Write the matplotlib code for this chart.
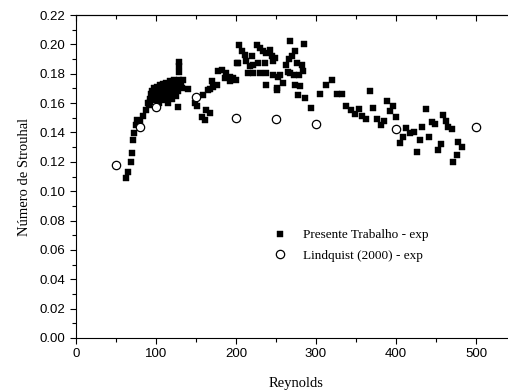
import matplotlib
matplotlib.use("Agg")
import matplotlib.pyplot as plt
from matplotlib.ticker import MultipleLocator, FormatStrFormatter

# Presente Trabalho - exp (filled squares)
re_exp = [62, 64.6, 68.7, 70.4, 71.7, 73, 74.6, 76, 79, 80, 84, 88, 91, 93,
          90, 92, 94, 95, 96, 97, 98, 100, 101, 102, 103, 104, 105, 106, 107,
          108, 109, 110, 111, 112, 113, 114, 115, 116, 117, 118, 119, 120, 121,
          122, 123, 124, 125, 126, 127, 128, 129, 129, 129, 129, 129, 131, 133,
          134, 139.6, 149, 151.7, 157, 161, 159, 163, 165, 167.5, 168, 171.6,
          176, 169.6, 178, 183, 186, 188, 192.5, 192.5, 196.6, 200, 201, 203,
          204, 208, 211, 212, 215.4, 217.5, 219.6, 221.7, 221.7, 226, 228, 230,
          230, 234, 236, 238, 238, 238, 242.5, 244.6, 246.7, 246.7, 248.7, 251,
          251, 253, 255, 259, 262, 265, 266, 267.5, 267.5, 270, 272, 274, 274,
          276, 278, 279, 280, 282, 284, 284.6, 286, 294, 305, 313, 320, 326,
          332, 337.5, 343.4, 349, 354, 358, 362.5, 367.5, 371.7, 376, 381, 385,
          388.4, 392.5, 396.6, 400, 405, 409, 413, 417.5, 422.5, 426, 430, 433,
          437.5, 441.7, 444.6, 449, 453, 456, 459, 462.5, 465.4, 469.6, 471.7,
          476, 478, 483]
st_exp = [0.109, 0.113, 0.120, 0.126, 0.135, 0.1395, 0.1454, 0.1486, 0.146,
          0.147, 0.151, 0.155, 0.1585, 0.161,
          0.160, 0.163, 0.166, 0.168, 0.165, 0.162, 0.170, 0.167, 0.171, 0.164,
          0.168, 0.160, 0.172, 0.166, 0.169, 0.162, 0.173, 0.167, 0.170, 0.164,
          0.174, 0.168, 0.160, 0.171, 0.166, 0.175, 0.169, 0.163, 0.172, 0.167,
          0.176, 0.170, 0.165, 0.173, 0.168, 0.157, 0.171, 0.176, 0.181, 0.185,
          0.188, 0.174, 0.170, 0.176, 0.1695, 0.160, 0.158, 0.1504, 0.1486,
          0.1657, 0.155, 0.169, 0.153, 0.1695, 0.1709, 0.1725, 0.1748, 0.1816,
          0.1827, 0.177, 0.1804, 0.178, 0.1748, 0.177, 0.1759, 0.1873, 0.187,
          0.1997, 0.1952, 0.193, 0.189, 0.1804, 0.185, 0.1918, 0.186, 0.1804,
          0.1997, 0.1873, 0.1975, 0.1804, 0.1952, 0.1873, 0.194, 0.1804,
          0.1725, 0.1963, 0.1918, 0.1884, 0.1793, 0.1907, 0.170, 0.169, 0.178,
          0.179, 0.1736, 0.186, 0.181, 0.190, 0.202, 0.1804, 0.192, 0.179,
          0.1952, 0.1725, 0.1873, 0.1656, 0.179, 0.1718, 0.186, 0.182, 0.2004,
          0.1634, 0.1566, 0.1659, 0.1725, 0.1759, 0.1659, 0.1659, 0.1577,
          0.1554, 0.1527, 0.1559, 0.1513, 0.149, 0.1679, 0.1566, 0.149, 0.1452,
          0.1481, 0.1617, 0.1543, 0.1581, 0.1508, 0.1331, 0.1372, 0.143, 0.1395,
          0.140, 0.127, 0.135, 0.144, 0.1559, 0.1368, 0.1474, 0.1459, 0.128,
          0.1322, 0.152, 0.1481, 0.144, 0.1422, 0.1202, 0.1247, 0.1338, 0.130]

# Lindquist (2000) - exp (open circles)
re_lind = [50, 80, 100, 150, 200, 250, 300, 400, 500]
st_lind = [0.118, 0.144, 0.157, 0.164, 0.150, 0.149, 0.146, 0.1425, 0.144]

serif = "Liberation Serif"
plt.rcParams["font.family"] = "Liberation Sans"

fig = plt.figure(figsize=(5.08, 3.9), dpi=100)
ax = fig.add_axes([76 / 508, 52 / 390, 440 / 508, 323 / 390])

ax.plot(re_exp, st_exp, ls="none", marker="s", ms=5, mfc="black",
        mec="black", mew=0.3, label="Presente Trabalho - exp")
ax.plot(re_lind, st_lind, ls="none", marker="o", ms=6, mfc="white",
        mec="black", mew=0.9, label="Lindquist (2000) - exp")

ax.set_xlim(0, 550)
ax.set_ylim(0, 0.22)
ax.xaxis.set_major_locator(MultipleLocator(100))
ax.xaxis.set_minor_locator(MultipleLocator(50))
ax.yaxis.set_major_locator(MultipleLocator(0.02))
ax.yaxis.set_minor_locator(MultipleLocator(0.01))
ax.yaxis.set_major_formatter(FormatStrFormatter("%.2f"))

ax.tick_params(which="both", direction="out", top=False, right=False,
               width=0.8, labelsize=9.5, pad=3)
ax.tick_params(which="major", length=4.5)
ax.tick_params(which="minor", length=2.8)
for sp in ax.spines.values():
    sp.set_linewidth(0.8)

# top axis ticks pointing inward
top = ax.secondary_xaxis("top")
top.xaxis.set_major_locator(MultipleLocator(100))
top.xaxis.set_minor_locator(MultipleLocator(50))
top.tick_params(which="both", direction="in", labeltop=False, width=0.8)
top.tick_params(which="major", length=4.5)
top.tick_params(which="minor", length=2.8)
top.spines["top"].set_linewidth(0.8)

ax.set_xlabel("Reynolds", fontfamily=serif, fontsize=10.5, labelpad=12)
ax.set_ylabel("Número de Strouhal", fontfamily=serif, fontsize=10.5,
              labelpad=6)

ax.legend(loc="upper left", bbox_to_anchor=(0.43, 0.358), frameon=False,
          prop={"family": serif, "size": 9.5}, handlelength=1.2,
          handletextpad=1.2, labelspacing=0.65, borderpad=0)

fig.savefig("out.png", dpi=100)
